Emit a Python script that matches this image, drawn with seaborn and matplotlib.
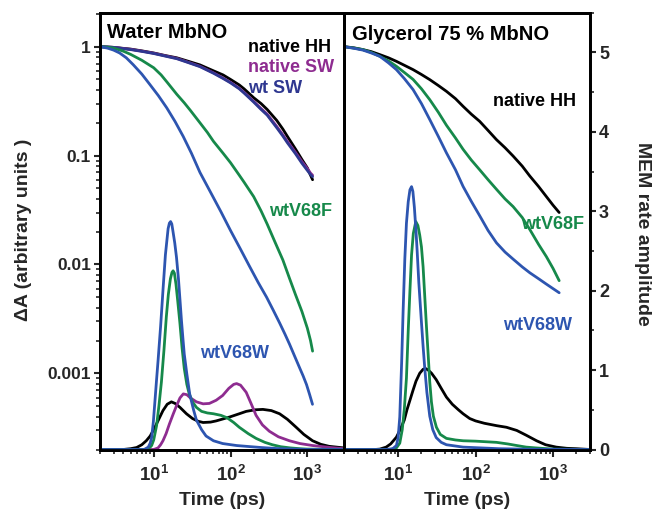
import matplotlib
matplotlib.use("Agg")
import matplotlib.pyplot as plt
from matplotlib.ticker import LogLocator, FixedLocator, FixedFormatter, MultipleLocator, NullFormatter
import seaborn as sns

# ---- decay curves (dA, log scale), water MbNO
water_hh_t = [2, 3, 5, 7, 10, 14, 20, 28, 40, 60, 80, 100, 130, 150, 200, 250, 300, 400, 480, 550, 700, 850, 1000, 1100, 1170]
water_hh_a = [1.0, 0.985, 0.95, 0.915, 0.875, 0.83, 0.79, 0.735, 0.68, 0.6, 0.55, 0.50, 0.445, 0.41, 0.34,
              0.30, 0.265, 0.21, 0.175, 0.15, 0.115, 0.092, 0.077, 0.066, 0.06]
water_sw_t = [2, 3, 5, 7, 10, 14, 20, 28, 40, 60, 80, 100, 130, 150, 200, 250, 300, 400, 480, 550, 700, 850, 1000, 1100, 1170]
water_nsw_a = [1.0, 0.985, 0.945, 0.91, 0.87, 0.825, 0.78, 0.72, 0.66, 0.575, 0.515, 0.47, 0.415, 0.38, 0.315,
               0.27, 0.24, 0.185, 0.155, 0.135, 0.107, 0.088, 0.076, 0.069, 0.066]
water_wtsw_a = [1.0, 0.985, 0.94, 0.905, 0.865, 0.82, 0.775, 0.715, 0.655, 0.57, 0.51, 0.465, 0.41, 0.375, 0.31,
                0.265, 0.235, 0.18, 0.151, 0.131, 0.104, 0.085, 0.073, 0.067, 0.064]
water_f_t = [2, 2.5, 3, 4, 5, 7, 10, 12.5, 15, 20, 25, 30, 40, 50, 60, 80, 100, 130, 150, 200, 250, 300, 380,
             480, 580, 700, 850, 1000, 1100, 1170]
water_f_a = [1.0, 0.99, 0.97, 0.91, 0.85, 0.75, 0.64, 0.55, 0.47, 0.365, 0.305, 0.26, 0.2, 0.163, 0.135, 0.105,
             0.086, 0.066, 0.057, 0.042, 0.031, 0.0235, 0.016, 0.011, 0.0076, 0.0053, 0.0037, 0.0026, 0.002, 0.0016]
water_w_t = [2, 2.5, 3, 3.6, 4.4, 5.4, 7, 8.9, 11.5, 14.8, 19, 24.2, 31, 40, 55, 75, 100, 135, 177, 230, 295,
             360, 436, 510, 587, 680, 791, 880, 975, 1070, 1167]
water_w_a = [1.0, 0.97, 0.93, 0.875, 0.79, 0.684, 0.56, 0.45, 0.355, 0.274, 0.205, 0.150, 0.105, 0.070, 0.046,
             0.0305, 0.0205, 0.0138, 0.0096, 0.0068, 0.0050, 0.0038, 0.0029, 0.0023, 0.00185, 0.00145, 0.00113,
             0.00095, 0.00079, 0.00064, 0.00052]

# ---- decay curves, glycerol 75 % MbNO
gly_t = [2, 2.7, 3.5, 4.5, 5.8, 7.5, 9.5, 12, 15.6, 20, 25.6, 33, 42, 55, 69, 88, 113, 145, 186, 240, 305,
         400, 500, 650, 820, 1000, 1200]
gly_hh_a = [1.0, 0.975, 0.94, 0.9, 0.845, 0.79, 0.733, 0.675, 0.615, 0.555, 0.498, 0.44, 0.389, 0.333, 0.283,
            0.24, 0.206, 0.17, 0.14, 0.118, 0.099, 0.08, 0.065, 0.052, 0.042, 0.035, 0.030]
gly_f_a = [1.0, 0.97, 0.94, 0.885, 0.815, 0.74, 0.66, 0.58, 0.5, 0.41, 0.326, 0.25, 0.19, 0.145, 0.114, 0.091,
           0.074, 0.06, 0.049, 0.04, 0.034, 0.027, 0.021, 0.0153, 0.0118, 0.0092, 0.0071]
gly_w_a = [1.0, 0.965, 0.93, 0.875, 0.815, 0.71, 0.615, 0.51, 0.403, 0.3, 0.214, 0.15, 0.106, 0.074, 0.052,
           0.038, 0.028, 0.0205, 0.0158, 0.013, 0.0112, 0.0095, 0.0084, 0.0074, 0.0066, 0.006, 0.0055]

# ---- MEM rate amplitude distributions (linear), water
mem_w_hh_t = [2, 4, 5, 6, 7, 8, 9, 10, 11.5, 13.2, 15, 17, 19, 22, 26.7, 32, 38, 44, 55, 65, 80, 98, 130, 160,
              210, 264, 340, 435, 550, 715, 900, 1170, 1500, 1920, 3000]
mem_w_hh_a = [0, 0, 0.01, 0.025, 0.06, 0.11, 0.17, 0.25, 0.37, 0.49, 0.57, 0.6, 0.58, 0.53, 0.45, 0.39, 0.355,
              0.34, 0.345, 0.36, 0.385, 0.41, 0.45, 0.48, 0.5, 0.505, 0.49, 0.45, 0.38, 0.28, 0.19, 0.11, 0.065,
              0.04, 0.02]
mem_w_nsw_t = [2, 10, 11.4, 12.3, 13.2, 14.5, 16, 18, 20, 22, 24.3, 27, 30, 36, 44, 53, 65, 79, 95, 110, 120,
               135, 160, 185, 215, 260, 320, 420, 585, 800, 1170, 2000, 3000]
mem_w_nsw_a = [0, 0, 0.02, 0.06, 0.11, 0.2, 0.32, 0.45, 0.56, 0.65, 0.7, 0.69, 0.65, 0.6, 0.575, 0.58, 0.62,
               0.68, 0.77, 0.82, 0.83, 0.81, 0.72, 0.58, 0.43, 0.31, 0.23, 0.16, 0.11, 0.075, 0.05, 0.025, 0.01]
mem_w_f_t = [2, 8, 9, 9.4, 10, 10.9, 11.7, 12.6, 13.6, 14.6, 15.5, 16.5, 17.3, 17.9, 18.6, 19.5, 20.5, 21.9,
             23.4, 25, 27, 29, 32, 36, 42, 50, 60, 75, 90, 110, 130, 170, 215, 280, 350, 450, 600, 800, 1000, 3000]
mem_w_f_a = [0, 0, 0.03, 0.05, 0.12, 0.3, 0.55, 0.85, 1.25, 1.67, 1.95, 2.15, 2.23, 2.25, 2.22, 2.08, 1.88, 1.6,
             1.28, 1.02, 0.82, 0.7, 0.6, 0.53, 0.48, 0.46, 0.45, 0.43, 0.4, 0.34, 0.28, 0.2, 0.14, 0.09, 0.06,
             0.035, 0.02, 0.01, 0.005, 0]
mem_w_w_t = [2, 7.5, 8.5, 9, 9.4, 9.9, 10.4, 10.9, 11.4, 12.3, 13.3, 14.2, 15.4, 16, 16.6, 17.2, 17.8, 18.8,
             19.8, 21, 22, 23, 24, 25, 27, 29.4, 33, 36, 42, 48, 60, 79, 120, 160, 250, 400, 700, 1000, 3000]
mem_w_w_a = [0, 0, 0.03, 0.08, 0.15, 0.35, 0.62, 0.88, 1.12, 1.55, 2.05, 2.45, 2.78, 2.85, 2.87, 2.84, 2.75,
             2.6, 2.42, 2.15, 1.88, 1.62, 1.4, 1.2, 0.95, 0.7, 0.5, 0.37, 0.25, 0.17, 0.11, 0.075, 0.05, 0.04,
             0.025, 0.012, 0.005, 0, 0]

# ---- MEM rate amplitude distributions, glycerol
mem_g_hh_t = [2, 5, 5.8, 7, 8, 9.5, 10.5, 12, 13, 14.2, 15.5, 17, 19, 21, 22.5, 24.5, 27, 31, 36, 42, 50, 60,
              69, 84, 100, 130, 187, 250, 340, 450, 613, 800, 1100, 1500, 2000, 3000]
mem_g_hh_a = [0, 0, 0.005, 0.03, 0.07, 0.155, 0.24, 0.37, 0.5, 0.62, 0.74, 0.86, 0.96, 1.01, 1.02, 1.0, 0.96,
              0.88, 0.77, 0.66, 0.57, 0.5, 0.45, 0.39, 0.36, 0.33, 0.3, 0.28, 0.24, 0.18, 0.11, 0.06, 0.03,
              0.015, 0.01, 0]
mem_g_f_t = [2, 8, 9.5, 10.5, 11.3, 12, 12.8, 13.5, 14.2, 14.9, 15.7, 16.9, 18, 19, 20, 21, 22, 23.2, 24.4,
             25.6, 26.9, 28.5, 31.2, 35, 42, 55, 69, 100, 186, 260, 340, 450, 600, 1000, 3000]
mem_g_f_a = [0, 0, 0.02, 0.08, 0.25, 0.5, 0.9, 1.5, 2.0, 2.45, 2.72, 2.87, 2.82, 2.7, 2.55, 2.3, 1.95, 1.55,
             1.2, 0.85, 0.6, 0.42, 0.28, 0.19, 0.14, 0.12, 0.11, 0.105, 0.09, 0.07, 0.05, 0.03, 0.02, 0.005, 0]
mem_g_w_t = [2, 7, 8.5, 9.5, 10, 10.5, 11.1, 11.6, 12.2, 12.8, 13.5, 14.2, 14.9, 15.5, 16.2, 17, 17.6, 18.5,
             20, 21, 22, 23.5, 25.6, 28, 31, 36, 42, 69, 200, 500, 3000]
mem_g_w_a = [0, 0, 0.01, 0.05, 0.15, 0.41, 1.1, 1.75, 2.4, 2.85, 3.12, 3.27, 3.31, 3.25, 3.05, 2.75, 2.5, 2.1,
             1.6, 1.3, 1.04, 0.72, 0.42, 0.25, 0.15, 0.09, 0.06, 0.03, 0.01, 0.003, 0]

BLACK = "#000000"
PURPLE = "#8E2C90"
NAVY = "#2E3790"
BLUE = "#2D55B0"
GREEN = "#16894A"

sns.set_style("ticks")
plt.rcParams["font.family"] = ["Liberation Sans", "DejaVu Sans"]
plt.rcParams["font.weight"] = "bold"
plt.rcParams["mathtext.fontset"] = "custom"
plt.rcParams["mathtext.rm"] = "Liberation Sans:bold"
plt.rcParams["mathtext.bf"] = "Liberation Sans:bold"
plt.rcParams["mathtext.default"] = "bf"
plt.rcParams["lines.solid_joinstyle"] = "round"

W, H = 653, 512
fig = plt.figure(figsize=(W / 100, H / 100), dpi=100)
ax_w = fig.add_axes([100 / W, 1 - 449.5 / H, 244 / W, 436.8 / H])
ax_g = fig.add_axes([344 / W, 1 - 449.5 / H, 246 / W, 436.8 / H])

LW = 2.0
for ax in (ax_w, ax_g):
    ax.set_xscale("log")
    ax.set_yscale("log")
    ax.set_xlim(2, 3000)
    ax.set_ylim(2e-4, 2.05)

mem_w = ax_w.twinx()
mem_g = ax_g.twinx()
for m in (mem_w, mem_g):
    m.set_ylim(0, 5.5)

# decay curves
sns.lineplot(x=water_hh_t, y=water_hh_a, ax=ax_w, color=BLACK, lw=LW)
sns.lineplot(x=water_sw_t, y=water_nsw_a, ax=ax_w, color=PURPLE, lw=LW)
sns.lineplot(x=water_sw_t, y=water_wtsw_a, ax=ax_w, color=NAVY, lw=LW)
sns.lineplot(x=water_f_t, y=water_f_a, ax=ax_w, color=GREEN, lw=LW)
sns.lineplot(x=water_w_t, y=water_w_a, ax=ax_w, color=BLUE, lw=LW)

sns.lineplot(x=gly_t, y=gly_hh_a, ax=ax_g, color=BLACK, lw=LW)
sns.lineplot(x=gly_t, y=gly_f_a, ax=ax_g, color=GREEN, lw=LW)
sns.lineplot(x=gly_t, y=gly_w_a, ax=ax_g, color=BLUE, lw=LW)

# MEM distributions
sns.lineplot(x=mem_w_hh_t, y=mem_w_hh_a, ax=mem_w, color=BLACK, lw=LW)
sns.lineplot(x=mem_w_nsw_t, y=mem_w_nsw_a, ax=mem_w, color=PURPLE, lw=LW)
sns.lineplot(x=mem_w_f_t, y=mem_w_f_a, ax=mem_w, color=GREEN, lw=LW)
sns.lineplot(x=mem_w_w_t, y=mem_w_w_a, ax=mem_w, color=BLUE, lw=LW)

sns.lineplot(x=mem_g_hh_t, y=mem_g_hh_a, ax=mem_g, color=BLACK, lw=LW)
sns.lineplot(x=mem_g_f_t, y=mem_g_f_a, ax=mem_g, color=GREEN, lw=LW)
sns.lineplot(x=mem_g_w_t, y=mem_g_w_a, ax=mem_g, color=BLUE, lw=LW)

# axes styling
for ax in (ax_w, ax_g, mem_w, mem_g):
    for s in ax.spines.values():
        s.set_linewidth(2.0)
        s.set_color("black")
    ax.set_xlim(2, 3000)
    ax.xaxis.set_major_locator(LogLocator(base=10, numticks=10))
    ax.xaxis.set_minor_locator(LogLocator(base=10, subs=range(2, 10), numticks=10))
    ax.xaxis.set_minor_formatter(NullFormatter())
    ax.tick_params(axis="x", which="major", direction="out", length=5, width=1.5,
                   labelsize=13.5, pad=6, bottom=True, top=False)
    ax.tick_params(axis="x", which="minor", direction="out", length=3, width=1.2,
                   bottom=True, top=False)
    ax.set_xlabel("Time (ps)", fontsize=14, fontweight="bold", labelpad=5)

ax_w.yaxis.set_major_locator(FixedLocator([1, 0.1, 0.01, 0.001]))
ax_w.yaxis.set_major_formatter(FixedFormatter(["1", "0.1", "0.01", "0.001"]))
ax_w.yaxis.set_minor_locator(LogLocator(base=10, subs=range(2, 10), numticks=10))
ax_w.yaxis.set_minor_formatter(NullFormatter())
ax_w.tick_params(axis="y", which="major", direction="out", length=4.5, width=1.5, labelsize=12.5, pad=2)
ax_w.tick_params(axis="y", which="minor", direction="out", length=2.8, width=1.2)
ax_g.tick_params(axis="y", which="both", left=False, labelleft=False)
mem_w.tick_params(axis="y", which="both", right=False, labelright=False)

mem_g.yaxis.set_major_locator(FixedLocator([0, 1, 2, 3, 4, 5]))
mem_g.yaxis.set_minor_locator(MultipleLocator(0.5))
mem_g.tick_params(axis="y", which="major", direction="out", length=4.5, width=1.5, labelsize=13, pad=2)
mem_g.tick_params(axis="y", which="minor", direction="out", length=2.8, width=1.2)
for m in (mem_w, mem_g):
    m.set_xlabel("")
    m.tick_params(axis="x", which="both", bottom=False, labelbottom=False)


def label(x, y, s, color=BLACK, size=13):
    fig.text(x / W, 1 - y / H, s, color=color, fontsize=size, fontweight="bold",
             ha="left", va="baseline")


label(107, 38.5, "Water MbNO", size=14.5)
label(248, 52, "native HH")
label(248, 72, "native SW", PURPLE)
label(248, 93, "wt SW", NAVY)
label(269, 216, "wtV68F", GREEN)
label(200, 358, "wtV68W", BLUE)

label(352, 39.5, "Glycerol 75 % MbNO", size=14.5)
label(493, 106, "native HH")
label(521, 229, "wtV68F", GREEN)
label(503, 330, "wtV68W", BLUE)

fig.text(24 / W, 1 - 230 / H, "ΔA (arbitrary units )", rotation=90, fontsize=14,
         fontweight="bold", ha="center", va="center")
fig.text(643 / W, 1 - 234 / H, "MEM rate amplitude", rotation=270, fontsize=14,
         fontweight="bold", ha="center", va="center")

fig.savefig("out.png", dpi=100)
